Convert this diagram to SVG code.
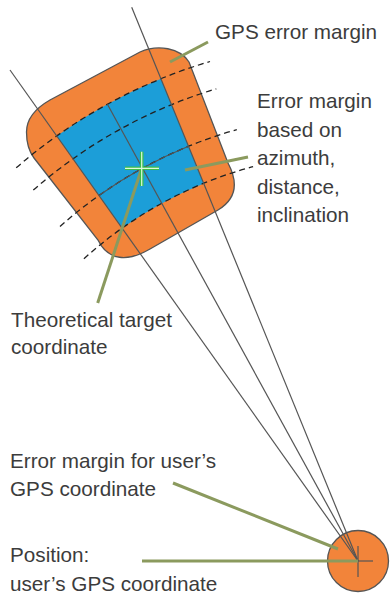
<svg xmlns="http://www.w3.org/2000/svg" width="390" height="595" viewBox="0 0 390 595">
<style>
.lbl{font-family:"Liberation Sans",Arial,sans-serif;font-size:20.7px;fill:#3c3c3c}
.ray{stroke:#555;stroke-width:1.2;fill:none}
.dash{stroke:#222;stroke-width:1.3;fill:none;stroke-dasharray:6 4}
.lead{stroke:#8b9a5e;stroke-width:3;fill:none}
</style>
<rect width="390" height="595" fill="#fff"/>
<g id="gps-error-area">
<path d="M26.5,132 C26.5,118 36,108 50,100 L140,52 C158,44 180,48 189,62 L228,163 C237,180 238,198 218,210 L150,249 C128,262 108,261 98,240 L34,158 C28,150 26.5,142 26.5,132 Z" fill="#f2843a" stroke="#555" stroke-width="1.3"/>
</g>
<g id="azimuth-error-area">
<path d="M56.7,135.9 A521,521 0 0 1 160.9,78.8 L203.7,183.4 A408,408 0 0 0 122.1,228.1 Z" fill="#1c9ed8"/>
</g>
<g id="user-position">
<circle cx="358" cy="561" r="30.5" fill="#f2843a" stroke="#555" stroke-width="1.3"/>
</g>
<g id="connectors">
<path class="dash" d="M16.2,167.8 A521,521 0 0 1 210,61.5"/>
<path class="dash" d="M33.3,190.1 A493,493 0 0 1 216.3,88.8"/>
<path class="dash" d="M60,226.5 A448,448 0 0 1 236.8,129.7"/>
<path class="dash" d="M83.9,258.8 A408,408 0 0 1 253.1,166.7"/>
<path class="ray" d="M98.9,195.5 A448,448 0 0 1 188.5,146.3"/>
<line class="ray" x1="10" y1="70" x2="358" y2="561"/>
<line class="ray" x1="131.7" y1="7.3" x2="358" y2="561"/>
<line class="ray" x1="107.4" y1="104.2" x2="358" y2="561"/>
<line class="ray" x1="358" y1="546" x2="358" y2="577"/>
<line class="ray" x1="343" y1="561" x2="373" y2="561"/>
<line class="lead" x1="208" y1="42" x2="170" y2="62"/>
<line class="lead" x1="248" y1="157" x2="185" y2="170"/>
<line class="lead" x1="141.7" y1="168.3" x2="97.7" y2="303"/>
<line class="lead" x1="173" y1="483" x2="338" y2="549"/>
<line class="lead" x1="142" y1="561" x2="358" y2="561"/>
</g>
<g id="target-cross">
<path d="M125,168.3 H159 M141.7,151.7 V186" stroke="#3dbb4a" stroke-width="3.6" fill="none"/>
<path d="M125,168.3 H159 M141.7,151.7 V186" stroke="#dcfadc" stroke-width="1.2" fill="none"/>
</g>
<g id="labels">
<text class="lbl" x="215" y="39">GPS error margin</text>
<text class="lbl" x="257" y="108">Error margin</text>
<text class="lbl" x="257" y="136.5">based on</text>
<text class="lbl" x="257" y="165">azimuth,</text>
<text class="lbl" x="257" y="193.5">distance,</text>
<text class="lbl" x="257" y="222">inclination</text>
<text class="lbl" x="11" y="327">Theoretical target</text>
<text class="lbl" x="11" y="354">coordinate</text>
<text class="lbl" x="10" y="468">Error margin for user’s</text>
<text class="lbl" x="10" y="496">GPS coordinate</text>
<text class="lbl" x="10" y="562">Position:</text>
<text class="lbl" x="10" y="591">user’s GPS coordinate</text>
</g>
</svg>
